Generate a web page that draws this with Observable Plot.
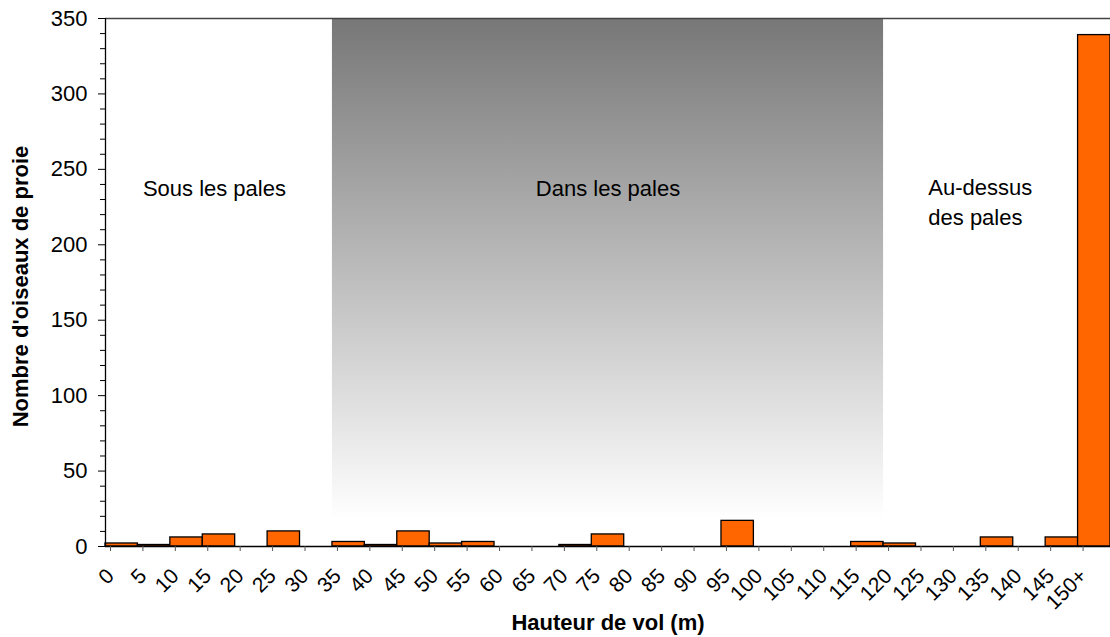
<!DOCTYPE html>
<html><head><meta charset="utf-8">
<script src="https://cdn.jsdelivr.net/npm/d3@7"></script>
<script src="https://cdn.jsdelivr.net/npm/@observablehq/plot@0.6"></script>
<style>
body{margin:0;background:#fff;}
svg{display:block;}
</style>
</head><body><div id="chart"></div>
<script>
// Bins (flight height, m)
const binLabels = ["0","5","10","15","20","25","30","35","40","45","50","55","60","65","70","75","80","85","90","95","100","105","110","115","120","125","130","135","140","145","150+"];
const binStarts = [0,5,10,15,20,25,30,35,40,45,50,55,60,65,70,75,80,85,90,95,100,105,110,115,120,125,130,135,140,145,150];
const binWidth = 5;
// Number of raptors per bin
const counts = [2,1,6,8,0,10,0,3,1,10,2,3,0,0,1,8,0,0,0,17,0,0,0,3,2,0,0,6,0,6,339];
// Rotor-swept zone
const rotorZone = [{x1:35, x2:120, y1:0, y2:350}];
const yMajorTicks = [0,50,100,150,200,250,300,350];
const yMinorTicks = [10,20,30,40,60,70,80,90,110,120,130,140,160,170,180,190,210,220,230,240,260,270,280,290,310,320,330,340];
const centeredNotes = [{x:16.8, y:237, text:"Sous les pales"},{x:77.5, y:237, text:"Dans les pales"}];
const leftNotes = [{x:126.9, y:229.5, text:"Au-dessus\ndes pales"}];
const xTitle = "Hauteur de vol (m)";
const yTitle = "Nombre d'oiseaux de proie";

const data = binStarts.map((s,i)=>({x1:s, x2:s+binWidth, count:counts[i], label:binLabels[i]}));

const gradientDefs = () => {
  const ns = "http://www.w3.org/2000/svg";
  const defs = document.createElementNS(ns, "defs");
  defs.innerHTML = '<linearGradient id="bandGrad" x1="0" y1="0" x2="0" y2="1">' +
    '<stop offset="0" stop-color="#777777"/><stop offset="0.95" stop-color="#ffffff"/></linearGradient>';
  return defs;
};

const font = "'Liberation Sans', Arial, sans-serif";
const chart = Plot.plot({
  width: 1110, height: 637,
  marginLeft: 105, marginRight: 0, marginTop: 18, marginBottom: 91,
  style: {fontFamily: font, fontSize: "22px", background: "#fff", color: "#000", overflow: "visible"},
  x: {domain: [0, 155], axis: null},
  y: {domain: [0, 350], axis: null},
  marks: [
    gradientDefs,
    Plot.rect(rotorZone, {x1:"x1", x2:"x2", y1:"y1", y2:"y2", fill:"url(#bandGrad)"}),
    Plot.rectY(data.filter(d=>d.count>0), {x1:"x1", x2:"x2", y:"count", fill:"#ff6600", stroke:"#000", strokeWidth:1.3}),
    Plot.ruleY([350], {stroke:"#444", strokeWidth:1.5}),
    Plot.ruleX([0], {stroke:"#000", strokeWidth:1.3}),
    Plot.ruleY([0], {stroke:"#000", strokeWidth:1.5}),
    Plot.axisY({ticks: yMinorTicks, tickSize: 5, tickFormat: () => "", label: null, stroke:"#000"}),
    Plot.axisY({ticks: yMajorTicks, tickSize: 7, tickPadding: 11, label: null, stroke:"#000", fill:"#000", fontSize: 22}),
    Plot.axisX({ticks: binStarts, tickSize: 5, tickRotate: -45, tickPadding: 21, dx: 5,
      tickFormat: d => binLabels[binStarts.indexOf(d)], label: null, stroke:"#555", fill:"#000", fontSize: 21}),
    Plot.text([xTitle], {text: d=>d, frameAnchor:"bottom", textAnchor:"middle", dy: 83, fontWeight:"bold", fontSize: 22}),
    Plot.text([yTitle], {text: d=>d, frameAnchor:"left", textAnchor:"middle", dx: -85, dy: 4, rotate: -90, fontWeight:"bold", fontSize: 22}),
    Plot.text(centeredNotes, {x:"x", y:"y", text:"text", textAnchor:"middle", fontSize: 22}),
    Plot.text(leftNotes, {x:"x", y:"y", text:"text", textAnchor:"start", lineHeight: 1.36, fontSize: 22})
  ]
});
document.getElementById("chart").appendChild(chart);
</script>
</body></html>
